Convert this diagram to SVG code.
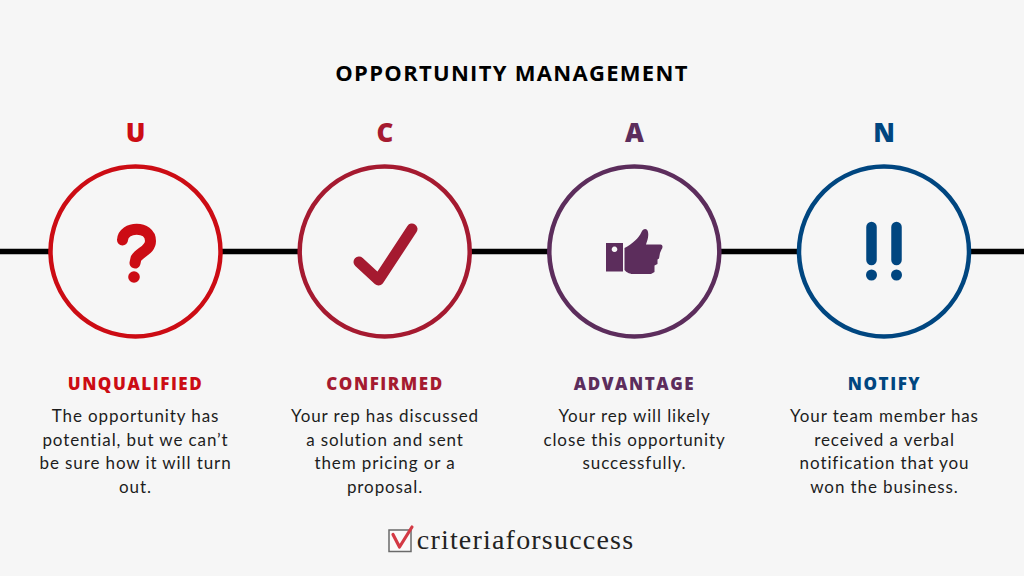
<svg xmlns="http://www.w3.org/2000/svg" width="1024" height="576" viewBox="0 0 1024 576">
<style>
text{font-family:"Open Sans","Liberation Sans",sans-serif;text-anchor:middle}
.t{font-size:22px;font-weight:700;letter-spacing:1.3px;fill:#000}
.l{font-size:26px;font-weight:800}
.h{font-size:17px;font-weight:800;letter-spacing:1.55px}
.b{font-size:17px;fill:#1d1d1d;font-family:Lato,"Liberation Sans",sans-serif;letter-spacing:.9px}
.r{fill:#f6f6f6;stroke-width:4.5}
.ut{fill:#cc0c14}.ct{fill:#a51a30}.at{fill:#5c2d5c}.nt{fill:#004680}
.ur{stroke:#cc0c14}.cr{stroke:#a51a30}.ar{stroke:#5c2d5c}.nr{stroke:#004680}
</style>
<rect width="1024" height="576" fill="#f6f6f6"/>
<text id="title" class="t" x="512" y="81">OPPORTUNITY MANAGEMENT</text>
<g id="connectors"><line x1="0" y1="251.5" x2="1024" y2="251.5" stroke="#000" stroke-width="5.5"/></g>
<g id="node-u">
<text class="l ut" x="135.5" y="142">U</text>
<circle class="r ur" cx="135.5" cy="251.5" r="85"/>
<path d="M122.500 240C123 226 150.500 225 150.500 241C150.500 250 140 252 136 258.500L135 263" fill="none" stroke="#cc0c14" stroke-width="11" stroke-linecap="round" stroke-linejoin="round"/>
<circle cx="134" cy="277" r="5.800" fill="#cc0c14"/>
<text class="h ut" x="135.500" y="390">UNQUALIFIED</text>
<text class="b" x="135.500" y="422">The opportunity has</text>
<text class="b" x="135.500" y="446">potential, but we can’t</text>
<text class="b" x="135.500" y="469">be sure how it will turn</text>
<text class="b" x="135.500" y="493">out.</text>
</g>
<g id="node-c">
<text class="l ct" x="385" y="142">C</text>
<circle class="r cr" cx="384.700" cy="251.500" r="85"/>
<path d="M359 262L378.500 280L412 229" fill="none" stroke="#a51a30" stroke-width="11" stroke-linecap="round" stroke-linejoin="round"/>
<text class="h ct" x="385" y="390">CONFIRMED</text>
<text class="b" x="385" y="422">Your rep has discussed</text>
<text class="b" x="385" y="446">a solution and sent</text>
<text class="b" x="385" y="469">them pricing or a</text>
<text class="b" x="385" y="493">proposal.</text>
</g>
<g id="node-a">
<text class="l at" x="634.500" y="142">A</text>
<circle class="r ar" cx="634.300" cy="251.500" r="85"/>
<path fill-rule="evenodd" d="M606 243H623V271.500H606ZM614.500 246.500a2.800 2.800 0 1 0 .01 0Z" fill="#5c2d5c"/>
<path d="M624.500 248C632 244 639 238 641.500 232C643 228 647.500 228 648 232C649 237 647 241 646 244.500H660.500C663 244.500 663 248 661.500 249.500L660 253L659 258.500L657.500 259.500V264L654.500 265.500V272L651 274H633C629 274 625.500 271.500 624.500 270Z" fill="#5c2d5c"/>
<text class="h at" x="634.500" y="390">ADVANTAGE</text>
<text class="b" x="634.500" y="422">Your rep will likely</text>
<text class="b" x="634.500" y="446">close this opportunity</text>
<text class="b" x="634.500" y="469">successfully.</text>
</g>
<g id="node-n">
<text class="l nt" x="884" y="142">N</text>
<circle class="r nr" cx="884" cy="251.500" r="85"/>
<line x1="871.500" y1="227" x2="871.500" y2="260" stroke="#004680" stroke-width="10.500" stroke-linecap="round"/>
<line x1="896.500" y1="227" x2="896.500" y2="260" stroke="#004680" stroke-width="10.500" stroke-linecap="round"/>
<circle cx="871.500" cy="275" r="5.500" fill="#004680"/>
<circle cx="896.500" cy="275" r="5.500" fill="#004680"/>
<text class="h nt" x="884.500" y="390">NOTIFY</text>
<text class="b" x="884.500" y="422">Your team member has</text>
<text class="b" x="884.500" y="446">received a verbal</text>
<text class="b" x="884.500" y="469">notification that you</text>
<text class="b" x="884.500" y="493">won the business.</text>
</g>
<g id="logo">
<rect x="389" y="530" width="22" height="21.500" fill="#fafafa" stroke="#6a6a6a" stroke-width="1.500"/>
<path d="M393 534.500L399.500 547L412 527" fill="none" stroke="#d33a45" stroke-width="3.200" stroke-linecap="round" stroke-linejoin="round"/>
<text x="525.500" y="549" style="font-family:'Liberation Serif',serif;font-size:28px;letter-spacing:1.2px;fill:#222">criteriaforsuccess</text>
</g>
</svg>
